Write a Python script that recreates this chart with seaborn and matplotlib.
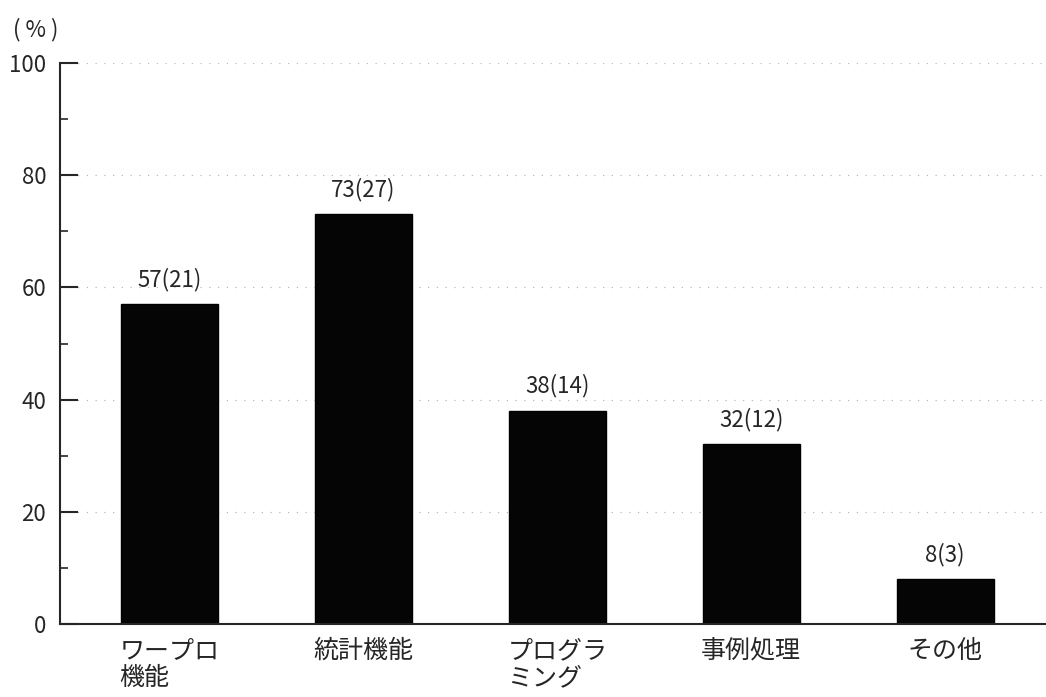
import matplotlib
matplotlib.use("Agg")
import matplotlib.pyplot as plt
from matplotlib.ticker import MultipleLocator
import pandas as pd
import seaborn as sns

# データ
categories = ["ワープロ\n機能", "統計機能", "プログラ\nミング", "事例処理", "その他"]
percents = [57, 73, 38, 32, 8]
counts = [21, 27, 14, 12, 3]

df = pd.DataFrame({"項目": categories, "割合": percents, "人数": counts})

sns.set_style("ticks")
plt.rcParams["font.family"] = ["Noto Sans CJK JP", "DejaVu Sans"]

fig = plt.figure(figsize=(10.46, 6.97), dpi=100)
ax = fig.add_axes([0.0574, 0.1047, 0.9426, 0.8049])

sns.barplot(data=df, x="項目", y="割合", color="#050505", width=0.5,
            edgecolor="black", linewidth=1, saturation=1, ax=ax)

for i, (p, c) in enumerate(zip(percents, counts)):
    ax.text(i, p + 3.2, f"{p}({c})", ha="center", va="baseline", fontsize=16)

ax.set_ylim(0, 100)
ax.set_xlim(-0.565, 4.52)
ax.yaxis.set_major_locator(MultipleLocator(20))
ax.yaxis.set_minor_locator(MultipleLocator(10))
ax.grid(axis="y", which="major", color="#b8b8b8", linestyle=(0, (1, 6)), linewidth=0.9)
ax.set_axisbelow(True)

ax.tick_params(axis="y", which="major", direction="in", length=13, width=1.5,
               labelsize=16, pad=10)
ax.tick_params(axis="y", which="minor", direction="in", length=6, width=1.2)
ax.tick_params(axis="x", length=0, labelsize=18, pad=10)
for lab in ax.get_xticklabels():
    lab.set_linespacing(1.05)
    lab.set_multialignment("left")

sns.despine(ax=ax)
ax.spines["left"].set_linewidth(1.5)
ax.spines["bottom"].set_linewidth(1.5)
ax.set_xlabel("")
ax.set_ylabel("")

fig.text(0.012, 0.94, "( % )", fontsize=16, ha="left", va="bottom")

fig.savefig("out.png", dpi=100)
